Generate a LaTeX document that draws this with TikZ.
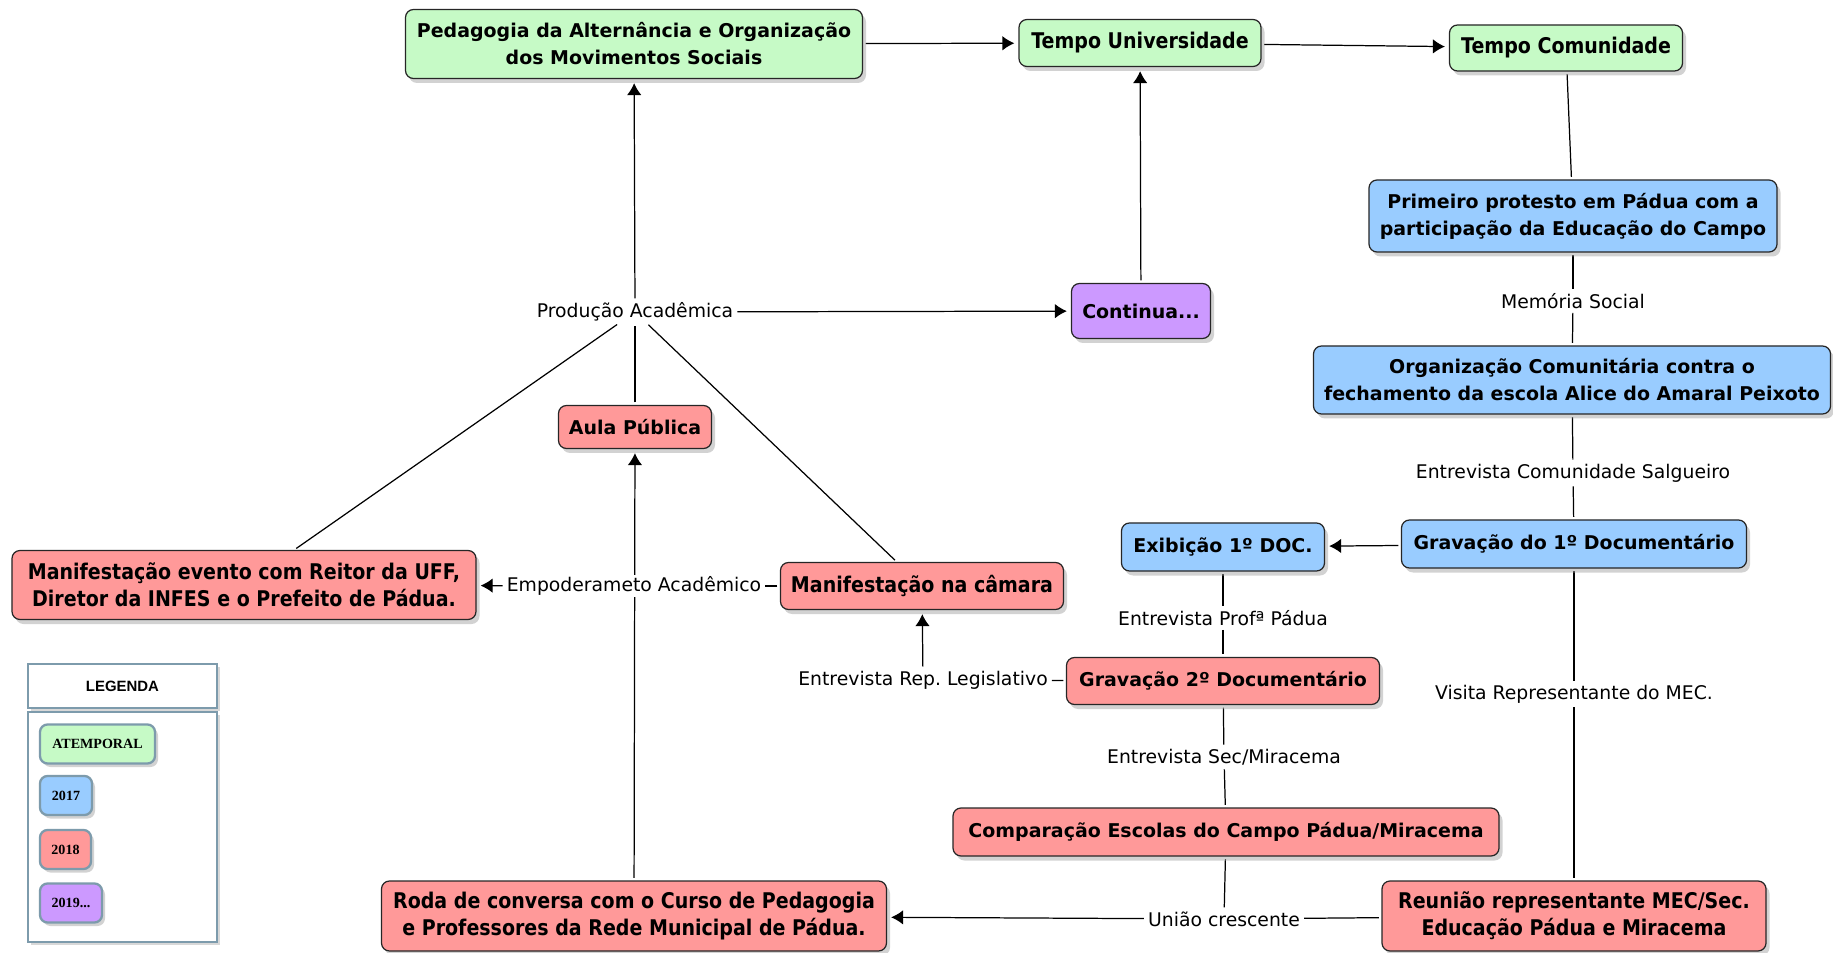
\documentclass[tikz,border=0pt]{standalone}
\usepackage{fontspec}
\setmainfont{DejaVu Sans}
\newfontfamily\estreita{DejaVu Sans}[FakeStretch=0.88]
\newfontfamily\legsans{Liberation Sans}
\newfontfamily\legserif{Liberation Serif}
\usetikzlibrary{arrows.meta,shadows,backgrounds}

\definecolor{verde}{RGB}{198,250,198}
\definecolor{azul}{RGB}{153,204,255}
\definecolor{rosa}{RGB}{255,153,153}
\definecolor{roxo}{RGB}{204,153,255}
\definecolor{moldura}{RGB}{125,155,172}

\tikzset{
  caixa/.style={draw=black!85, line width=0.7pt, rounded corners=1.6mm, align=center, inner sep=2pt,
    font=\bfseries\fontsize{10.8}{15.4}\selectfont,
    drop shadow={shadow xshift=0.7mm, shadow yshift=-0.9mm, fill=black!35, opacity=0.5}},
  estreito/.style={font=\estreita\bfseries\fontsize{12.3}{15.4}\selectfont},
  atemporal/.style={caixa, fill=verde},
  ano17/.style={caixa, fill=azul},
  ano18/.style={caixa, fill=rosa},
  ano19/.style={caixa, fill=roxo},
  rotulo/.style={fill=white, inner sep=0.8pt, font=\fontsize{10.7}{12}\selectfont},
  liga/.style={line width=0.7pt, shorten <=0.5mm, shorten >=0.5mm},
  seta/.style={liga, shorten >=0.8mm, -{Latex[length=2.4mm,width=2.9mm]}},
  legquadro/.style={draw=moldura, line width=1.5pt, fill=white,
    drop shadow={shadow xshift=0.6mm, shadow yshift=-0.6mm, fill=black!30, opacity=0.5}},
  legitem/.style={draw=moldura, line width=1.3pt, rounded corners=1.5mm, minimum height=7.8mm, inner sep=1pt,
    font=\legserif\bfseries\fontsize{8}{9}\selectfont,
    drop shadow={shadow xshift=0.6mm, shadow yshift=-0.7mm, fill=black!35, opacity=0.5}}
}

\begin{document}
\begin{tikzpicture}[x=0.2mm, y=-0.2mm]
\useasboundingbox (0,0) rectangle (1833,953);

% caixas
\node [atemporal, minimum width=91.4mm, minimum height=13.8mm] (ped) at (634,44) {Pedagogia da Alternância e Organização\\dos Movimentos Sociais};
\node [atemporal, estreito, minimum width=48.4mm, minimum height=9.4mm] (tu) at (1140,43) {Tempo Universidade};
\node [atemporal, estreito, minimum width=46.6mm, minimum height=9.2mm] (tc) at (1566,48) {Tempo Comunidade};
\node [ano17, minimum width=81.6mm, minimum height=14.4mm] (prim) at (1573,216) {Primeiro protesto em Pádua com a\\participação da Educação do Campo};
\node [ano17, minimum width=103.4mm, minimum height=13.6mm] (org) at (1572,380) {Organização Comunitária contra o\\fechamento da escola Alice do Amaral Peixoto};
\node [ano17, minimum width=69mm, minimum height=9.6mm] (grav1) at (1574,544) {Gravação do 1º Documentário};
\node [ano17, minimum width=40.6mm, minimum height=9.6mm] (exib) at (1223,547) {Exibição 1º DOC.};
\node [ano18, minimum width=62.6mm, minimum height=9.4mm] (grav2) at (1223,681) {Gravação 2º Documentário};
\node [ano18, minimum width=109.2mm, minimum height=9.6mm] (comp) at (1226,832) {Comparação Escolas do Campo Pádua/Miracema};
\node [ano18, estreito, minimum width=76.8mm, minimum height=14mm] (reun) at (1574,916) {Reunião representante MEC/Sec.\\Educação Pádua e Miracema};
\node [ano18, estreito, minimum width=101mm, minimum height=14mm] (roda) at (634,916) {Roda de conversa com o Curso de Pedagogia\\e Professores da Rede Municipal de Pádua.};
\node [ano18, estreito, minimum width=92.8mm, minimum height=13.8mm] (manev) at (244,585) {Manifestação evento com Reitor da UFF,\\Diretor da INFES e o Prefeito de Pádua.};
\node [ano18, estreito, minimum width=56.6mm, minimum height=9.4mm] (mancam) at (922,586) {Manifestação na câmara};
\node [ano18, minimum width=30.6mm, minimum height=8.6mm] (aula) at (635,427) {Aula Pública};
\node [ano19, minimum width=27.8mm, minimum height=11mm] (cont) at (1141,311) {Continua...};

% rotulos
\node [rotulo] (prod) at (635,312) {Produção Acadêmica};
\node [rotulo] (mem) at (1573,301) {Memória Social};
\node [rotulo] (salg) at (1573,473) {Entrevista Comunidade Salgueiro};
\node [rotulo] (visita) at (1574,694) {Visita Representante do MEC.};
\node [rotulo] (profa) at (1223,618) {Entrevista Profª Pádua};
\node [rotulo] (replg) at (923,680) {Entrevista Rep.\ Legislativo};
\node [rotulo] (sec) at (1224,757) {Entrevista Sec/Miracema};
\node [rotulo] (uniao) at (1224,919) {União crescente};
\node [rotulo] (empod) at (634,586) {Empoderameto Acadêmico};

% ligacoes
\begin{pgfonlayer}{background}
\foreach \a/\b in {tc/prim, prim/mem, mem/org, org/salg, salg/grav1, grav1/visita, visita/reun, exib/profa, profa/grav2, grav2/sec, sec/comp, comp/uniao, reun/uniao, grav2/replg, mancam/empod, aula/prod, manev/prod, mancam/prod}
\draw [liga] (\a) -- (\b);
\foreach \a/\b in {ped/tu, tu/tc, grav1/exib, replg/mancam, uniao/roda, empod/manev, roda/aula, prod/ped, prod/cont, cont/tu}
\draw [seta] (\a) -- (\b);
\end{pgfonlayer}

% legenda
\node [legquadro, minimum width=37.8mm, minimum height=8.8mm, font=\legsans\bfseries\fontsize{8.5}{10}\selectfont] (legtit) at (122.5,686) {LEGENDA};
\node [legquadro, minimum width=37.8mm, minimum height=46mm] (legcorpo) at (122.5,827) {};
\node [legitem, fill=verde, minimum width=23mm] (legat) at (97.5,744) {ATEMPORAL};
\node [legitem, fill=azul, minimum width=10.4mm] (leg17) at (66,795.5) {2017};
\node [legitem, fill=rosa, minimum width=10.2mm] (leg18) at (65.5,849.5) {2018};
\node [legitem, fill=roxo, minimum width=12.4mm] (leg19) at (71,903) {2019...};
\end{tikzpicture}
\end{document}
